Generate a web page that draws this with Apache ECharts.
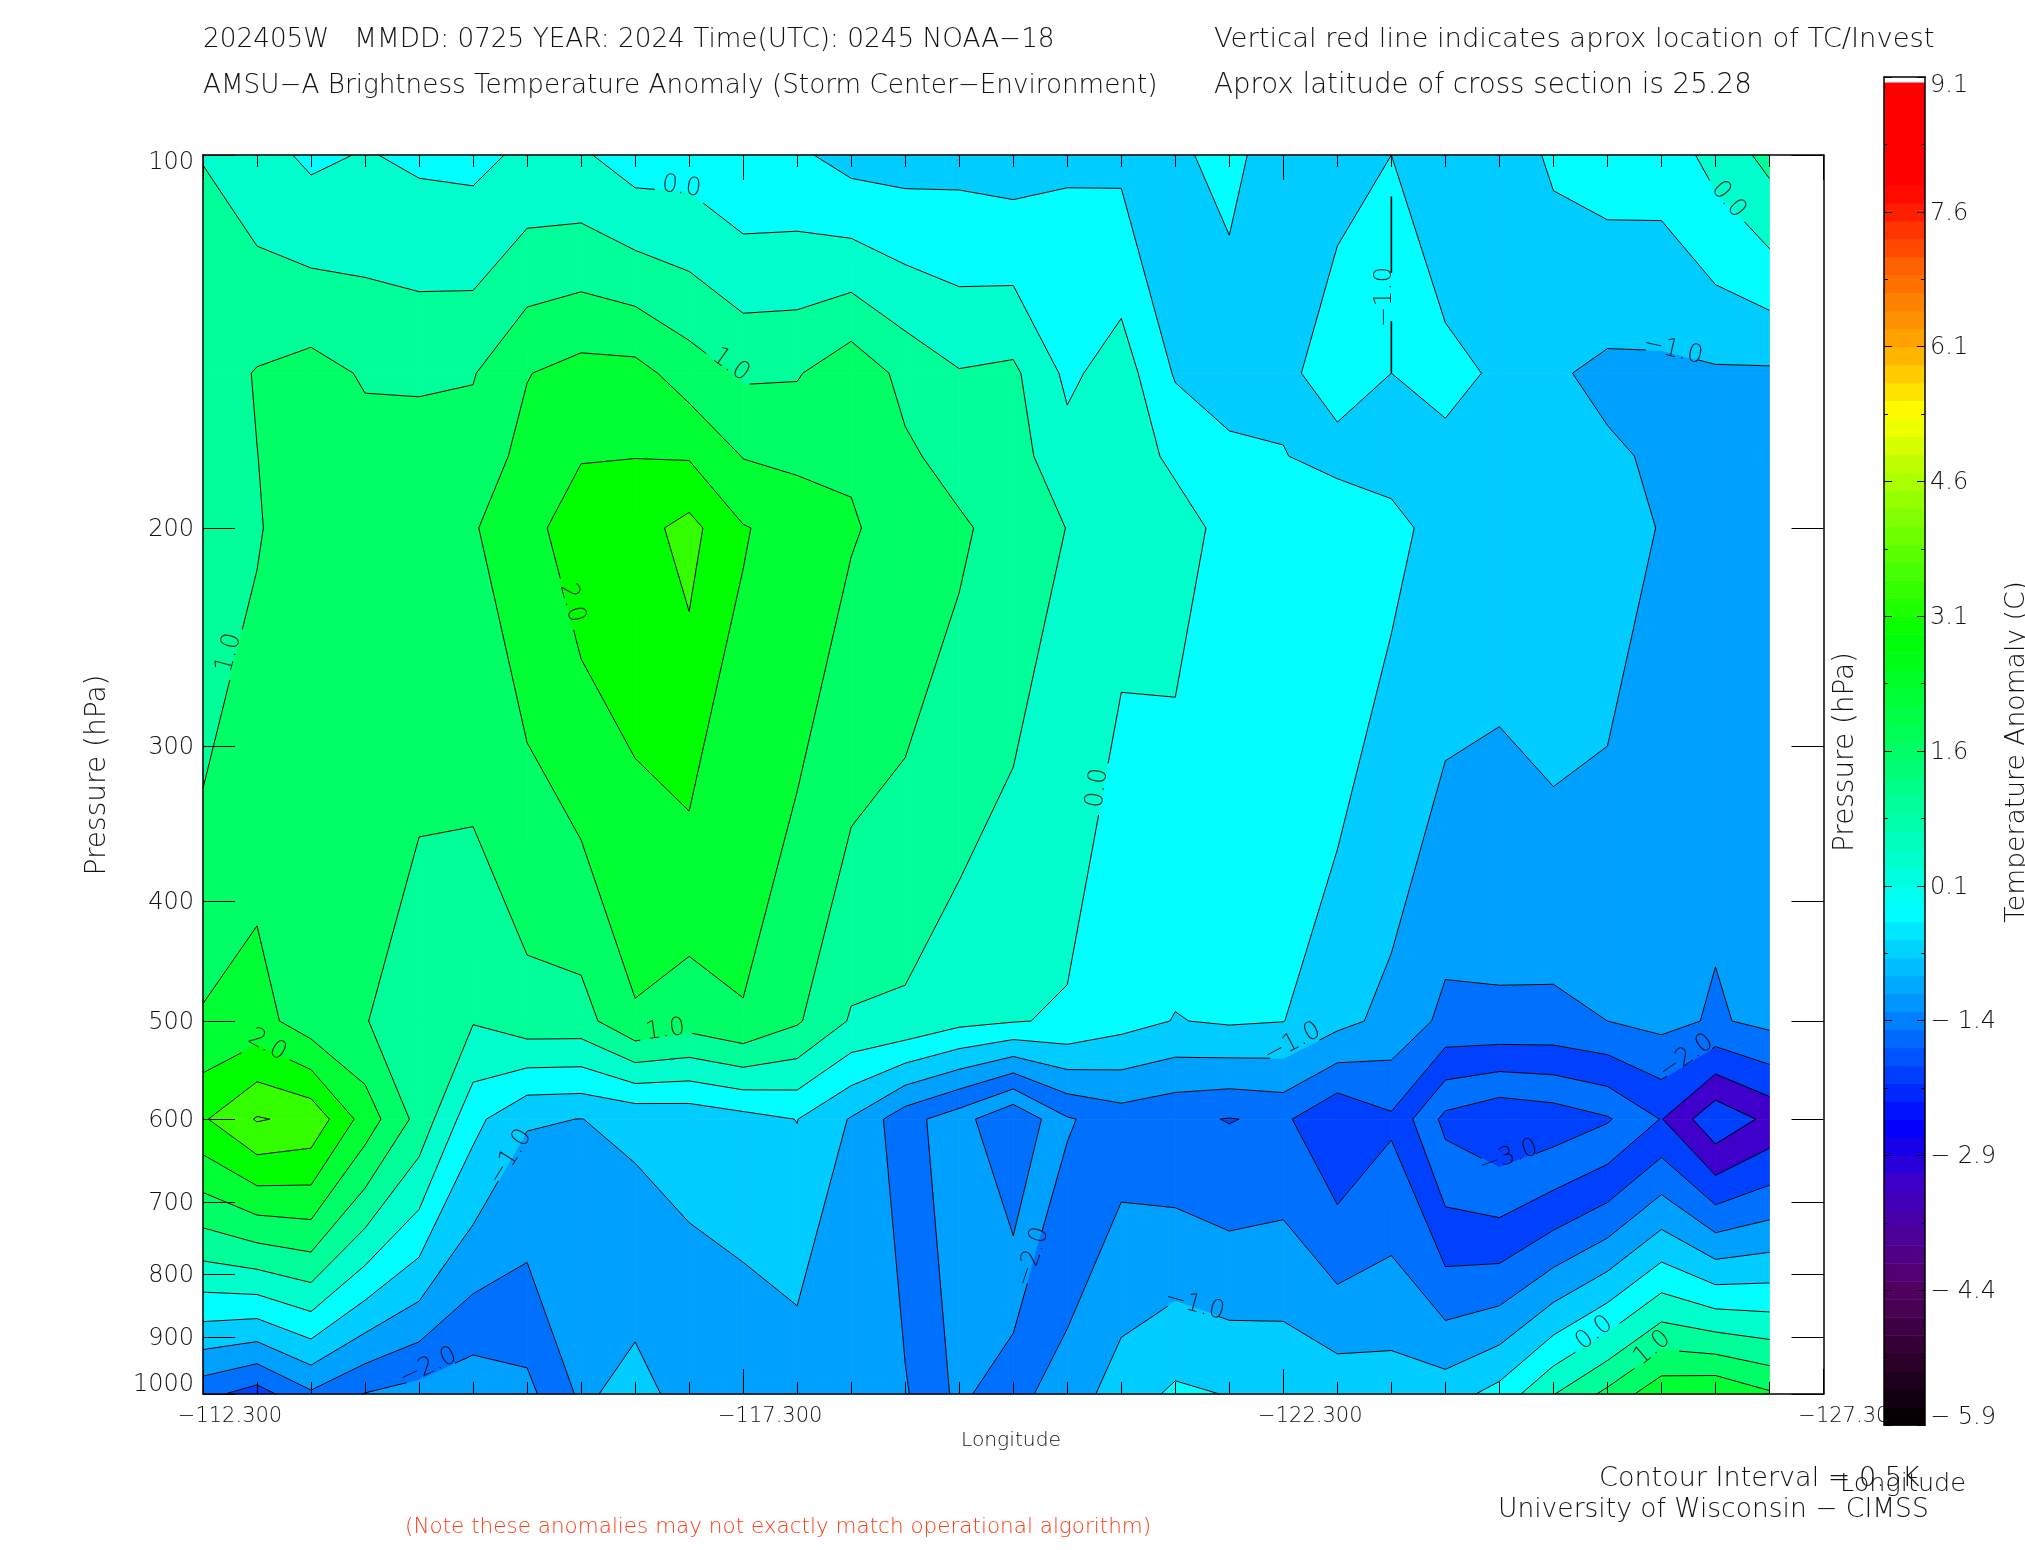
<!DOCTYPE html>
<html><head><meta charset="utf-8">
<style>html,body{margin:0;padding:0;background:#fff}#c{width:2025px;height:1550px}</style>
<script src="https://cdn.jsdelivr.net/npm/echarts@6/dist/echarts.min.js"></script>
</head><body><div id="c"></div>
<script>
// ---- data ----
const pressureLevels = [100,150,175,200,500,600,1000];
const row100  = [.49,.19,-.097,.03,-.09,-.13,.096,.065,-.24,-.21,-.43,-.42,-.68,-.70,-.66,-.73,-.556,-.61,-.55,-.41,-.68,-.64,-.5,-.8,-.75,-.43,-.29,-.29,.17,.655];
const row150  = [.75,1.03,1.18,.95,.93,.97,1.48,1.68,1.67,1.26,.93,.96,1.35,.85,.53,.60,-.11,.25,-.55,-.69,-.62,-.26,-.5,-.39,-.555,-.94,-1.11,-1.10,-1.06,-1.07];
const row175  = [.68,.995,1.24,1.17,1.19,1.2,1.66,1.97,1.99,1.96,1.48,1.39,1.45,1.09,.8,.69,.19,.2,-.08,-.41,-.48,-.68,-.65,-.6,-.65,-.75,-.93,-1.07,-1.1,-1.2];
const row200  = [.61,.96,1.3,1.4,1.45,1.46,1.84,2.27,2.31,2.66,2.03,1.82,1.54,1.33,1.08,.78,.49,.10,.17,-.13,-.2,-.08,-.39,-.65,-.75,-.57,-.75,-1.03,-1.2,-1.25];
const row500  = [1.55,1.7,1.22,1.03,.58,.53,.8,.8,1.44,1.23,1.46,1.06,.45,.4,.14,.03,-.06,-.32,-.52,-.44,-.49,-.85,-1.15,-1.62,-1.59,-1.615,-1.5,-1.354,-1.557,-1.37];
const row600  = [2.44,3.04,2.87,1.78,.83,-.35,-.96,-1.005,-.9,-.86,-.68,-.49,-1.04,-1.81,-2.29,-2.99,-2.05,-1.75,-1.9,-2.02,-1.91,-2.46,-2.08,-3.14,-3.44,-3.3,-3.05,-2.48,-3.38,-2.87];
const row1000 = [-1.85,-2.22,-1.58,-2.02,-2.2,-2.35,-2.14,-1.41,-1.68,-1.30,-1.38,-1.31,-1.2,-1.45,-2.12,-1.64,-1.28,-.75,-.41,-.52,-.58,-.68,-.74,-.73,-.32,.48,1.13,1.86,1.95,1.57];
const gridRows = [row100,row150,row175,row200,row500,row600,row1000];
const contourLevels = [-3.5,-3,-2.5,-2,-1.5,-1,-.5,0,.5,1,1.5,2,2.5,3];
const xTickLabels = ['\u2212112.300','\u2212117.300','\u2212122.300','\u2212127.300'];
const yTickLabels = [100,200,300,400,500,600,700,800,900,1000];
// contour labels: column position, pressure, text
const labelCols = [8.86,9.77,.48,6.83,16.56,21.88,28.24,27.21,1.19,8.56,20.17,5.69,4.17,15.36,18.36,24.17,27.46,25.76,26.83];
const labelHpa  = [106.1,147.7,252.3,229.9,324.3,130.2,108.7,143.7,522.8,508.5,520.9,643.7,951,775,847.5,643.7,534.6,892.9,918.3];
const labelVals = [0,1,1,2,0,-1,0,-1,2,1,-1,-1,-2,-2,-1,-3,-2,0,1];
const labelAngles = [-8,-35,75,-75,82,90,-50,-13,-30,8,28,58,25,72,-15,20,35,38,40];
// degenerate contour running along one column edge
const edgeContourCol = 22, edgeContourHpa = [108,150], edgeContourLevel = -1;
// ---- styles ----
const bandColors = ['#0040ff','#0070ff','#0040ff','#0070ff','#00a0ff','#00ccff','#00ffff','#00ffcc','#00ff99','#00ff66','#00ff33','#00ff00','#33ff00','#33ff00'];
// enclosed depressions that the source plot paints in another colour: [band low, col from, col to, cell row from, cell row to, colour]
const enclosedFills = [[-2.5,13,16,4,5,'#00a0ff'],[-2.5,2,6,5,5,'#00a0ff'],[-2,7,8,5,5,'#00ccff'],[-3,27,28,4,5,'#4000cc']];
const barStops = [[-5.9,'#000000'],[-5.2,'#2a0028'],[-4.4,'#520060'],[-3.7,'#4c00a0'],[-3.2,'#3c00c8'],[-2.56,'#0000ff'],[-1.4,'#0080ff'],[-.18,'#00ffff'],[1.6,'#00ff66'],[2.9,'#00ff00'],[4.6,'#aaff00'],[5.36,'#ffff00'],[6.1,'#ffaa00'],[7.0,'#ff6000'],[7.88,'#ff0000'],[9.04,'#ff0000']];
const barStep = 0.2, barTop = 9.04, barBase = -5.9;

const lg = p => Math.log10(p);
const chart = echarts.init(document.getElementById('c'), null, {renderer:'canvas'});
const font = (size) => `200 ${size}px "DejaVu Sans"`;
const ink = '#111';

function bandColor(lo, i, j){
  for (const f of enclosedFills) if (f[0]===lo && i>=f[1] && i<=f[2] && j>=f[3] && j<=f[4]) return f[5];
  return bandColors[contourLevels.indexOf(lo)];
}
function corners(i,j){
  const P=pressureLevels;
  return [
    {c:i,  p:P[j],  v:gridRows[j][i]},
    {c:i+1,p:P[j],  v:gridRows[j][i+1]},
    {c:i+1,p:P[j+1],v:gridRows[j+1][i+1]},
    {c:i,  p:P[j+1],v:gridRows[j+1][i]}];
}
const lerp=(a,b,L)=>{const t=(L-a.v)/(b.v-a.v);return {c:a.c+t*(b.c-a.c),p:a.p+t*(b.p-a.p),t,lev:L};};

const cells=[];
for(let j=0;j<pressureLevels.length-1;j++)for(let i=0;i<row100.length-1;i++)cells.push([i,lg(pressureLevels[j]),j]);

function fillItem(params,api){
  const i=api.value(0), j=api.value(2), q=corners(i,j), children=[];
  const mean=(q[0].v+q[1].v+q[2].v+q[3].v)/4;
  const crossings=l=>{let n=0;for(let e=0;e<4;e++)if((q[e].v<l)!==(q[(e+1)%4].v<l))n++;return n;};
  contourLevels.forEach((lo,k)=>{
    const hi=k+1<contourLevels.length?contourLevels[k+1]:99, L=k===0?-99:lo;
    const inBand=v=>v>=L&&v<hi;
    const seq=[];
    for(let e=0;e<4;e++){
      const a=q[e],b=q[(e+1)%4];
      if(inBand(a.v))seq.push({pt:a});
      const cr=[];
      for(const l of [L,hi]) if((a.v<l)!==(b.v<l)) cr.push(lerp(a,b,l));
      cr.sort((x,y)=>x.t-y.t);
      let state=inBand(a.v);
      for(const c of cr){state=!state;seq.push({pt:c,kind:state?'in':'out',lev:c.lev});}
    }
    if(seq.length<3)return;
    const col=bandColor(lo,i,j);
    let polys=[seq.map(s=>s.pt)];
    // a saddle whose middle lies outside this band leaves two separate pieces
    const bound=(crossings(L)===4&&mean<L)?L:(crossings(hi)===4&&mean>=hi)?hi:null;
    if(bound!==null){
      const st=seq.findIndex(s=>s.kind==='in'&&s.lev===bound);
      if(st>=0){
        polys=[];let cur=[];
        for(let n=0;n<seq.length;n++){
          const s=seq[(st+n)%seq.length];
          cur.push(s.pt);
          if(s.kind==='out'&&s.lev===bound){polys.push(cur);cur=[];}
        }
      }
    }
    for(const poly of polys) if(poly.length>2)
      children.push({type:'polygon',silent:true,shape:{points:poly.map(o=>api.coord([o.c,lg(o.p)]))},style:{fill:col,stroke:col,lineWidth:.8}});
  });
  return {type:'group',children};
}
function cutSegment(a,b,centers,r){
  let parts=[[0,1]];
  const dx=b[0]-a[0],dy=b[1]-a[1],A=dx*dx+dy*dy;
  if(A===0)return [];
  for(const c of centers){
    const fx=a[0]-c[0],fy=a[1]-c[1],B=2*(fx*dx+fy*dy),C=fx*fx+fy*fy-r*r,D=B*B-4*A*C;
    if(D<=0)continue;
    const s=Math.sqrt(D),t1=(-B-s)/(2*A),t2=(-B+s)/(2*A),next=[];
    for(const [u,v] of parts){
      if(t2<=u||t1>=v){next.push([u,v]);continue;}
      if(t1>u)next.push([u,t1]);
      if(t2<v)next.push([t2,v]);
    }
    parts=next;
  }
  return parts.map(([u,v])=>[[a[0]+u*dx,a[1]+u*dy],[a[0]+v*dx,a[1]+v*dy]]);
}
function centersFor(api,level){
  const out=[];
  labelVals.forEach((v,n)=>{if(v===level)out.push(api.coord([labelCols[n],lg(labelHpa[n])]));});
  return out;
}
function lineItem(params,api){
  const i=api.value(0), j=api.value(2), q=corners(i,j), children=[];
  const seg=(u,w,level)=>{
    const a=api.coord([u.c,lg(u.p)]),b=api.coord([w.c,lg(w.p)]);
    for(const s of cutSegment(a,b,centersFor(api,level),27))
      children.push({type:'line',silent:true,shape:{x1:s[0][0],y1:s[0][1],x2:s[1][0],y2:s[1][1]},style:{stroke:'#000',lineWidth:1}});
  };
  contourLevels.forEach(L=>{
    const cr=[];
    for(let e=0;e<4;e++){
      const a=q[e],b=q[(e+1)%4];
      cr.push((a.v<L)!==(b.v<L)?lerp(a,b,L):null);
    }
    const f=cr.filter(Boolean);
    if(f.length===2)seg(f[0],f[1],L);
    else if(f.length===4){
      const m=(q[0].v+q[1].v+q[2].v+q[3].v)/4;
      if((m<L)===(q[0].v<L)){seg(cr[0],cr[1],L);seg(cr[2],cr[3],L);}
      else{seg(cr[3],cr[0],L);seg(cr[1],cr[2],L);}
    }
  });
  if(i===edgeContourCol-1&&j===0){
    const a=api.coord([edgeContourCol,lg(edgeContourHpa[0])]),b=api.coord([edgeContourCol,lg(edgeContourHpa[1])]);
    for(const s of cutSegment(a,b,centersFor(api,edgeContourLevel),25))
      children.push({type:'line',silent:true,shape:{x1:s[0][0],y1:s[0][1],x2:s[1][0],y2:s[1][1]},style:{stroke:'#000',lineWidth:1.6}});
  }
  return {type:'group',children};
}
// colour bar
function hex(c){return [1,3,5].map(k=>parseInt(c.substr(k,2),16));}
function barColor(v){
  for(let k=1;k<barStops.length;k++) if(v<=barStops[k][0]){
    const a=barStops[k-1],b=barStops[k],t=(v-a[0])/(b[0]-a[0]),x=hex(a[1]),y=hex(b[1]);
    return `rgb(${x.map((n,m)=>Math.round(n+t*(y[m]-n))).join(',')})`;
  }
  return barStops[barStops.length-1][1];
}
const barCells=[];
for(let v=barBase;v<barTop-1e-6;v+=barStep)barCells.push([0,v-barBase,Math.min(v+barStep,barTop)-barBase,v+barStep/2]);
function barItem(params,api){
  const a=api.coord([0,api.value(1)]),b=api.coord([1,api.value(2)]);
  return {type:'rect',silent:true,shape:{x:a[0],y:b[1],width:b[0]-a[0],height:a[1]-b[1]+.6},style:{fill:barColor(api.value(3))}};
}
// fixed text with a target width
const mctx=document.createElement('canvas').getContext('2d');
function fit(text,width){mctx.font=font(100);return 100*width/mctx.measureText(text).width;}
function txt(text,x,y,width,fill,rot){
  return {type:'text',x,y,rotation:(rot||0)*Math.PI/180,z:30,silent:true,
    style:{text,x:0,y:0,font:font(fit(text,width)),fill:fill||ink,textAlign:rot?'center':'left',textVerticalAlign:'middle'}};
}
const axisBase={type:'value',axisLine:{show:true,onZero:false,lineStyle:{color:'#000',width:1.5}},splitLine:{show:false},z:10};
const axisFont={color:ink,fontFamily:'DejaVu Sans',fontWeight:200};
const endLabelRich=(size,topH,bottomH)=>{
  const base=Object.assign({},axisFont,{fontSize:size});
  return {t:Object.assign({},base,{lineHeight:topH}),b:Object.assign({},base,{lineHeight:bottomH})};
};
const yVals=yTickLabels.map(lg);
const yBase=Object.assign({},axisBase,{min:2,max:3,inverse:true,gridIndex:0,
  axisTick:{show:true,inside:true,length:32,customValues:yVals,lineStyle:{color:'#000',width:1}},minorTick:{show:false}});
const xBase=Object.assign({},axisBase,{min:0,max:30,interval:10,gridIndex:0,
  axisTick:{show:true,inside:true,length:25,lineStyle:{color:'#000',width:1}},
  minorTick:{show:true,splitNumber:10,length:12,lineStyle:{color:'#000',width:1}}});
const barY={min:0,max:15,interval:1.5,gridIndex:1,minorTick:{show:true,splitNumber:2,length:4,lineStyle:{color:'#000',width:1}},
  axisTick:{show:true,inside:true,length:8,lineStyle:{color:'#000',width:1}}};
const barX=Object.assign({},axisBase,{min:0,max:1,gridIndex:1,axisTick:{show:false},axisLabel:{show:false},z:25});

chart.setOption({
  animation:false,backgroundColor:'#fff',
  grid:[{left:203,top:155,width:1620.5,height:1239},{left:1884,top:77,width:41,height:1348}],
  xAxis:[
    Object.assign({},xBase,{position:'bottom',axisLabel:Object.assign({},axisFont,{fontSize:21,margin:12,padding:[0,0,0,54],formatter:(v)=>xTickLabels[Math.round(v/10)]})}),
    Object.assign({},xBase,{position:'top',axisLabel:{show:false}}),
    Object.assign({},barX,{position:'bottom'}),
    Object.assign({},barX,{position:'top'})
  ],
  yAxis:[
    Object.assign({},yBase,{position:'left',axisLabel:Object.assign({},axisFont,{show:true,fontSize:24,margin:9,padding:[3,0,0,0],
      verticalAlignMinLabel:'top',verticalAlignMaxLabel:'bottom',customValues:yVals,rich:endLabelRich(24,10,18),
      formatter:(v)=>{const p=Math.round(Math.pow(10,v));return p===100?`{t|${p}}`:p===1000?`{b|${p}}`:String(p);}})}),
    Object.assign({},yBase,{position:'right',axisLabel:{show:false}}),
    Object.assign({},axisBase,barY,{position:'left',z:25,axisLabel:{show:false}}),
    Object.assign({},axisBase,barY,{position:'right',z:25,axisLabel:Object.assign({},axisFont,{show:true,fontSize:24,margin:5,padding:[3,0,0,0],
      verticalAlignMinLabel:'bottom',verticalAlignMaxLabel:'top',rich:endLabelRich(24,11,15),
      formatter:(v)=>{const n=v+barBase,s=n.toFixed(1),t=n<0?s.replace('-','\u2212 '):s;return v<0.01?`{b|${t}}`:v>14.99?`{t|${t}}`:t;}})})
  ],
  series:[
    {type:'custom',coordinateSystem:'cartesian2d',xAxisIndex:0,yAxisIndex:0,z:3,clip:false,silent:true,data:cells,encode:{x:0,y:1},renderItem:fillItem},
    {type:'custom',coordinateSystem:'cartesian2d',xAxisIndex:0,yAxisIndex:0,z:5,clip:false,silent:true,data:cells,encode:{x:0,y:1},renderItem:lineItem},
    {type:'scatter',xAxisIndex:0,yAxisIndex:0,z:6,symbolSize:0,silent:true,
      data:labelCols.map((c,n)=>({value:[c,lg(labelHpa[n])],
        label:{show:true,position:'inside',rotate:labelAngles[n],
          formatter:(labelVals[n]<0?'\u2212':'')+Math.abs(labelVals[n]).toFixed(1),
          fontSize:25,fontFamily:'DejaVu Sans',fontWeight:200,color:'#000'}}))},
    {type:'custom',coordinateSystem:'cartesian2d',xAxisIndex:2,yAxisIndex:2,z:20,clip:false,silent:true,data:barCells,encode:{y:1},renderItem:barItem}
  ],
  graphic:[
    txt('202405W   MMDD: 0725 YEAR: 2024 Time(UTC): 0245 NOAA\u221218',203,40,852),
    txt('AMSU\u2212A Brightness Temperature Anomaly (Storm Center\u2212Environment)',203,86,955),
    txt('Vertical red line indicates aprox location of TC/Invest',1214,40,721),
    txt('Aprox latitude of cross section is 25.28',1214,86,538),
    txt('Pressure (hPa)',98,775,201,ink,90),
    txt('Pressure (hPa)',1846,752,200,ink,90),
    txt('Longitude',961,1441,100),
    txt('Longitude',1840,1484,126),
    txt('Contour Interval = 0.5K',1599,1479,321),
    txt('University of Wisconsin \u2212 CIMSS',1498,1510,431),
    txt('(Note these anomalies may not exactly match operational algorithm)',405,1527,747,'#ff3c14'),
    txt('Temperature Anomaly (C)',2017,752,342,ink,90)
  ]
});
</script></body></html>
